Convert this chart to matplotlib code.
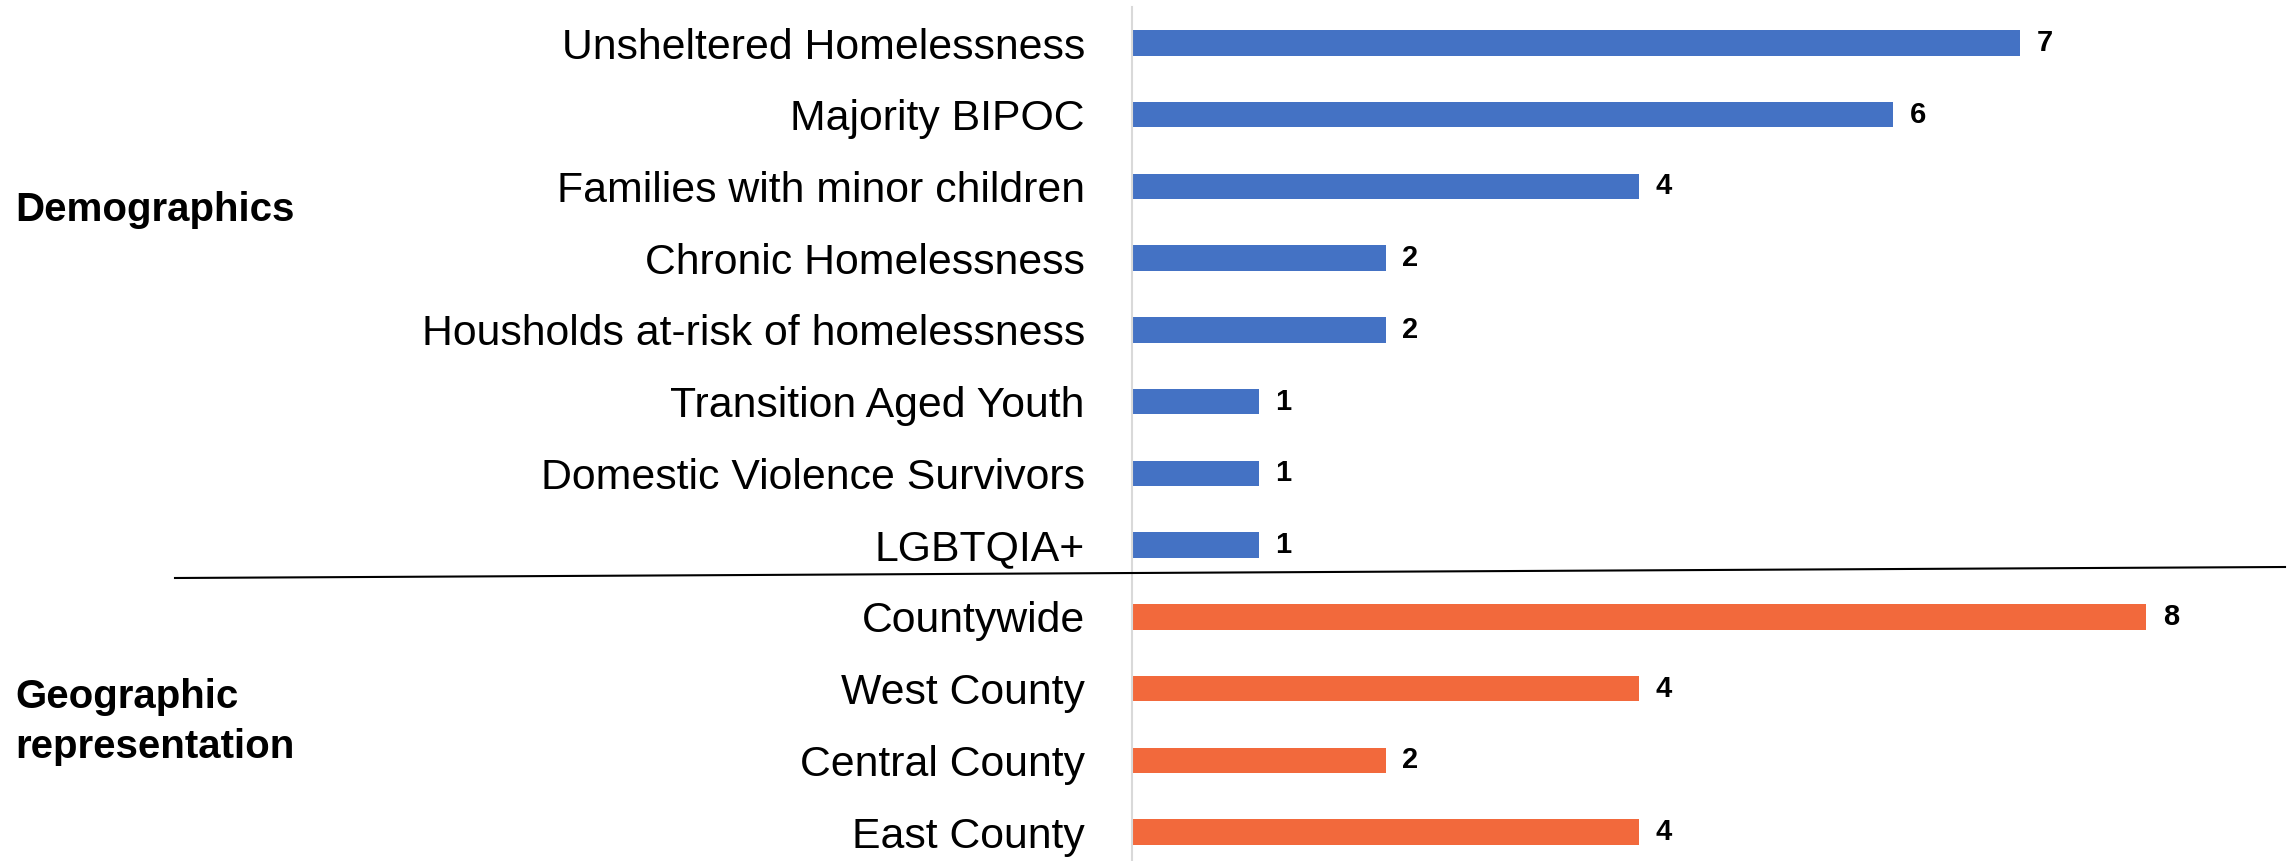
import matplotlib
matplotlib.use('Agg')
import matplotlib.pyplot as plt
from matplotlib.lines import Line2D
import matplotlib.transforms as mtransforms

# data
demo_labels = ['Unsheltered Homelessness', 'Majority BIPOC', 'Families with minor children',
               'Chronic Homelessness', 'Housholds at-risk of homelessness',
               'Transition Aged Youth', 'Domestic Violence Survivors', 'LGBTQIA+']
demo_values = [7, 6, 4, 2, 2, 1, 1, 1]
geo_labels = ['Countywide', 'West County', 'Central County', 'East County']
geo_values = [8, 4, 2, 4]
group_names = ['Demographics', 'Geographic\nrepresentation']

blue = '#4472C4'
orange = '#F2693C'

plt.rcParams['font.family'] = ['Liberation Sans', 'DejaVu Sans']

W, H = 2293, 861
fig = plt.figure(figsize=(W / 100, H / 100), dpi=100)
ax = fig.add_axes([1132 / W, 0, 1153 / W, 854 / H])

labels = demo_labels + geo_labels
values = demo_values + geo_values
colors = [blue] * len(demo_values) + [orange] * len(geo_values)
ypos = list(range(len(labels)))

bars = ax.barh(ypos, values, height=0.355, color=colors)
ax.bar_label(bars, padding=12, fontsize=21, fontweight='bold')

ax.set_xlim(0, 1153 / 126.8)
ax.set_ylim(len(labels) - 1 + 0.404, -0.502)
ax.set_yticks(ypos)
ax.set_yticklabels(labels, fontsize=30.8)
ax.tick_params(axis='y', length=0, pad=34)
ax.set_xticks([])
for s in ['top', 'right', 'bottom']:
    ax.spines[s].set_visible(False)
ax.spines['left'].set_color('#D9D9D9')
ax.spines['left'].set_linewidth(1.5)

# group labels on the far left
trans = mtransforms.blended_transform_factory(fig.transFigure, ax.transData)
ax.text(15 / W, 2.33, group_names[0], transform=trans, ha='left', va='center',
        fontsize=29, fontweight='bold')
ax.text(15 / W, 9.46, group_names[1], transform=trans, ha='left', va='center',
        fontsize=29, fontweight='bold', linespacing=1.4)

# slanted separator between the two groups
fig.add_artist(Line2D([175 / W, 2285 / W], [1 - 578 / H, 1 - 567 / H],
                      transform=fig.transFigure, color='black', lw=1.5))

fig.savefig('out.png', dpi=100, facecolor='white')
